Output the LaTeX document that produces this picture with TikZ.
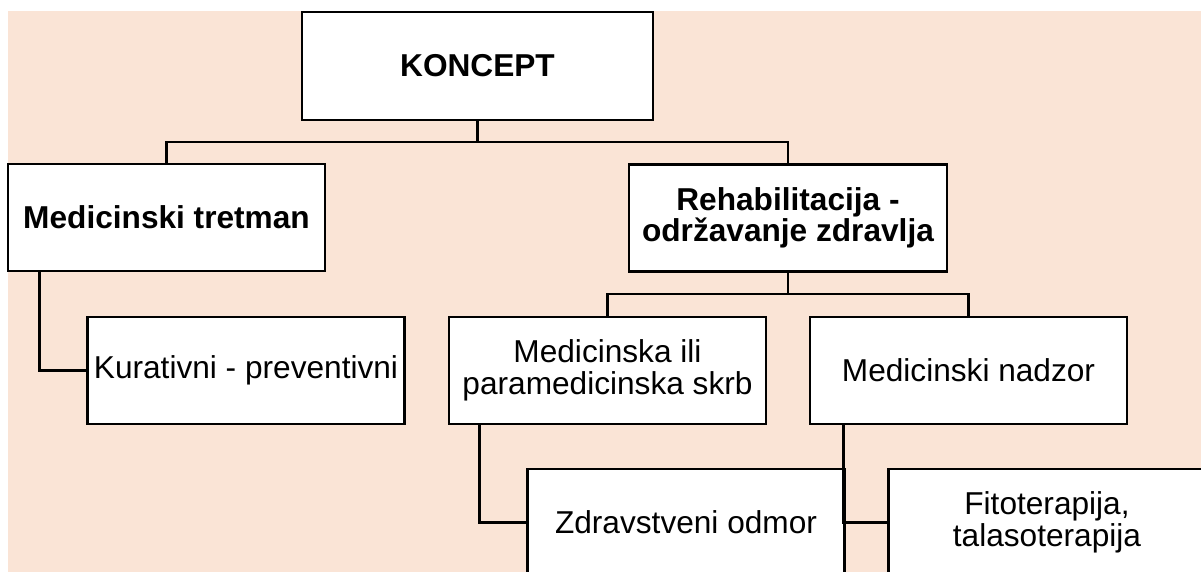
\documentclass[tikz,border=0pt]{standalone}
\usepackage{fontspec}
\setmainfont{Liberation Sans}
\usetikzlibrary{calc}
\definecolor{peach}{RGB}{250,228,214}
\begin{document}
\begin{tikzpicture}[node distance=7.22cm, block/.style={draw, fill=white, line width=1.5pt, minimum width=6.34cm, minimum height=2.14cm, align=center, inner sep=0pt, font=\fontsize{18}{18}\selectfont}, link/.style={line width=1.5pt}]

  % Frame
  \useasboundingbox (0,0) rectangle (24.02,-11.44);
  \clip (0,0) rectangle (24.02,-11.44);
  \fill[peach] (0.16,-0.22) rectangle (24.02,-11.44);

  % Top
  \node[block, minimum width=7.02cm, minimum height=2.16cm, font=\fontsize{18}{18}\selectfont\bfseries] (koncept) at (9.55,-1.32) {KONCEPT};

  % Second row
  \node[block, font=\fontsize{18}{18}\selectfont\bfseries] (tretman) at (3.33,-4.35) {Medicinski tretman};
  \node[block, minimum width=6.36cm, font=\fontsize{18}{18}\selectfont\bfseries] (rehab) at (15.76,-4.36) {Rehabilitacija -\\održavanje zdravlja};

  % Third row
  \node[block] (kurativni) at (4.92,-7.41) {Kurativni - preventivni};
  \node[block] (skrb) at (12.15,-7.41) {Medicinska ili\\paramedicinska skrb};
  \node[block, right of=skrb] (nadzor) {Medicinski nadzor};

  % Fourth row
  \node[block] (odmor) at (13.72,-10.45) {Zdravstveni odmor};
  \node[block, right of=odmor] (fito) {Fitoterapija,\\talasoterapija};

  % Branches
  \coordinate (J1) at (9.55,-2.84);
  \coordinate (J2) at (15.76,-5.88);
  \draw[link] (koncept.south) -- (J1);
  \draw[link] (tretman.north) |- (J1) -| (rehab.north);
  \draw[link] (rehab.south) -- (J2);
  \draw[link] (skrb.north) |- (J2) -| (nadzor.north);

  % Side links
  \draw[link] ([xshift=0.66cm]tretman.south west) |- (kurativni.west);
  \draw[link] ([xshift=0.64cm]skrb.south west) |- (odmor.west);
  \draw[link] ([xshift=0.69cm]nadzor.south west) |- (fito.west);

\end{tikzpicture}
\end{document}
